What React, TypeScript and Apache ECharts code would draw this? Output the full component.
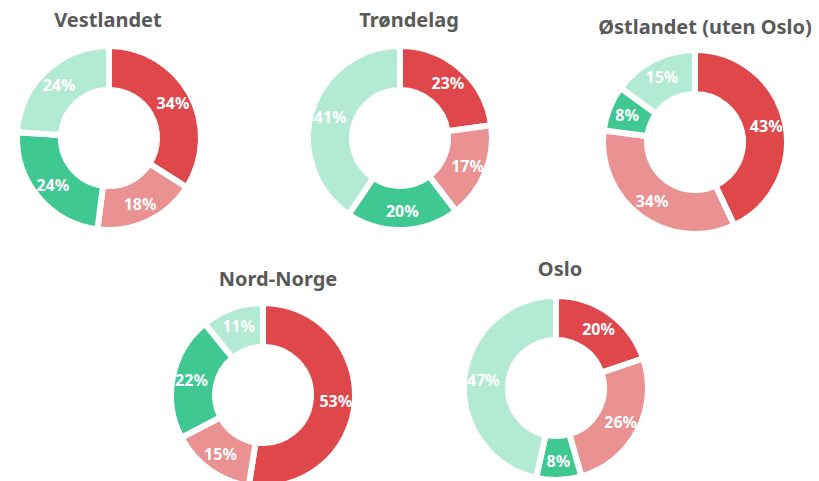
import React, { useEffect, useRef } from "react";
import * as echarts from "echarts";

const regions = ["Vestlandet", "Trøndelag", "Østlandet (uten Oslo)", "Nord-Norge", "Oslo"];
const categories = ["A", "B", "C", "D"];
const vestlandet = [34, 18, 24, 24];
const trondelag = [23, 17, 20, 41];
const ostlandet = [43, 34, 8, 15];
const nordNorge = [53, 15, 22, 11];
const oslo = [20, 26, 8, 47];
const seriesValues = [vestlandet, trondelag, ostlandet, nordNorge, oslo];

const colors = ["#E0474B", "#EA9192", "#40C893", "#B3EAD4"];
const centers: [number, number][] = [
  [109, 138],
  [400, 138],
  [695, 142],
  [263, 395],
  [556, 388],
];
const titlePos: [number, number][] = [
  [103, 4],
  [404, 4],
  [700, 11],
  [273, 263],
  [555, 253],
];

export default function App() {
  const ref = useRef<HTMLDivElement>(null);
  useEffect(() => {
    if (!ref.current) return;
    const chart = echarts.init(ref.current, null, { renderer: "svg" });
    chart.setOption({
      animation: false,
      backgroundColor: "#ffffff",
      color: colors,
      title: regions.map((r, i) => ({
        text: r,
        left: titlePos[i][0],
        top: titlePos[i][1],
        textAlign: "center",
        textStyle: {
          fontFamily: "Noto Sans",
          fontWeight: "bold",
          fontSize: 20,
          color: "#595959",
        },
      })),
      series: seriesValues.map((vals, i) => ({
        type: "pie",
        center: centers[i],
        radius: [48, 92],
        startAngle: 90,
        clockwise: true,
        avoidLabelOverlap: false,
        itemStyle: { borderColor: "#ffffff", borderWidth: 6 },
        label: {
          show: true,
          position: "inside",
          formatter: "{c}%",
          color: "#ffffff",
          fontFamily: "Noto Sans",
          fontWeight: "bold",
          fontSize: 16,
        },
        labelLine: { show: false },
        emphasis: { disabled: true },
        data: vals.map((v, j) => ({ name: categories[j], value: v })),
      })),
    });
    return () => chart.dispose();
  }, []);
  return (
    <div
      ref={ref}
      style={{ position: "fixed", left: 0, top: 0, width: 819, height: 481 }}
    />
  );
}
